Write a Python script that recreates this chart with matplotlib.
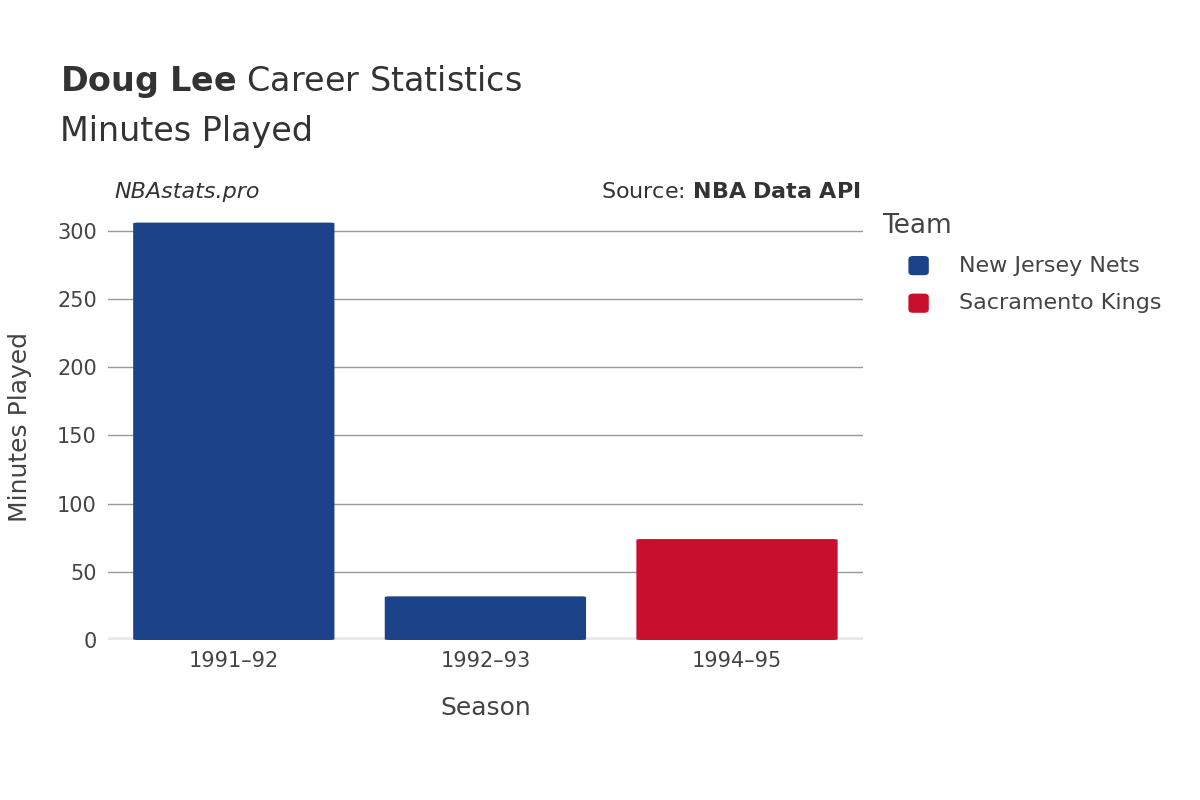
import matplotlib.pyplot as plt
from matplotlib.patches import FancyBboxPatch

seasons = ["1991\u201392", "1992\u201393", "1994\u201395"]
minutes = [306, 32, 74]
teams = ["New Jersey Nets", "New Jersey Nets", "Sacramento Kings"]
team_colors = {"New Jersey Nets": "#1c428a", "Sacramento Kings": "#c8102e"}

plt.rcParams["font.family"] = "DejaVu Sans"
fig = plt.figure(figsize=(12, 8), dpi=100)
ax = fig.add_axes([0.09, 0.2, 0.629, 0.532])

for i, (m, t) in enumerate(zip(minutes, teams)):
    ax.add_patch(FancyBboxPatch((i - 0.4, 0), 0.8, m,
                                boxstyle="round,pad=0,rounding_size=0.02",
                                mutation_aspect=30, color=team_colors[t], lw=0, zorder=3))

ax.set_xlim(-0.5, 2.5)
ax.set_ylim(0, 312)
ax.set_yticks(range(0, 301, 50))
ax.set_xticks(range(len(seasons)))
ax.set_xticklabels(seasons)
ax.grid(axis="y", color="#999999", lw=1, zorder=0)
ax.axhline(0, color="#e8e8e8", lw=4, zorder=2)
for s in ax.spines.values():
    s.set_visible(False)
ax.tick_params(length=0, labelsize=15, colors="#444444", pad=8)
ax.set_xlabel("Season", fontsize=18, color="#444444", labelpad=18)
ax.set_ylabel("Minutes Played", fontsize=18, color="#444444", labelpad=18)

fig.text(0.05, 0.875, r"$\bf{Doug\ Lee}$ Career Statistics", fontsize=24, color="#333333", va="bottom")
fig.text(0.05, 0.835, "Minutes Played", fontsize=24, color="#333333", va="center")
fig.text(0.095, 0.76, "NBAstats.pro", fontsize=16, style="italic", color="#333333", va="center")
fig.text(0.717, 0.76, r"Source: $\bf{NBA\ Data\ API}$", fontsize=16, color="#333333", va="center", ha="right")

fig.text(0.735, 0.717, "Team", fontsize=19, color="#444444", va="center")
for k, (name, c) in enumerate(team_colors.items()):
    y = 0.668 - k * 0.047
    fig.patches.append(FancyBboxPatch((0.757, y - 0.012), 0.017, 0.024,
                                      boxstyle="round,pad=0,rounding_size=0.004",
                                      transform=fig.transFigure, color=c, lw=0))
    fig.text(0.799, y, name, fontsize=16, color="#444444", va="center")

fig.savefig("out.png")
